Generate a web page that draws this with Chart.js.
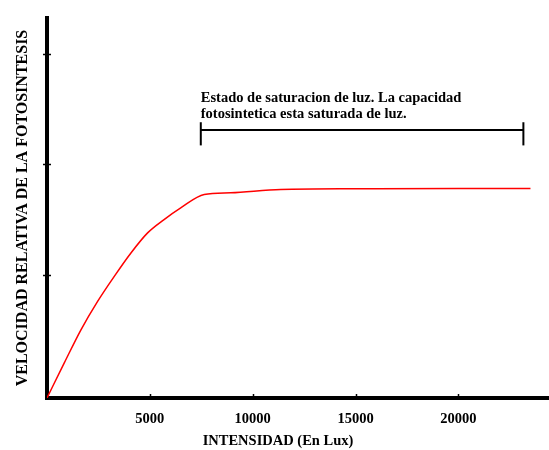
<!DOCTYPE html>
<html><head><meta charset="utf-8">
<script src="https://cdn.jsdelivr.net/npm/chart.js@4"></script>
<style>html,body{margin:0;padding:0;background:#fff}canvas{display:block}</style>
</head><body>
<canvas id="c" width="549" height="450"></canvas>
<script>
const lux  = [0, 840, 1650, 2460, 3270, 4080, 4890, 5690, 6500, 7640, 8930, 11360, 15000, 20000, 23500];
const rate = [0, 0.318, 0.618, 0.876, 1.103, 1.315, 1.497, 1.618, 1.724, 1.845, 1.861, 1.891, 1.897, 1.9, 1.9];
const xTicks = [5000, 10000, 15000, 20000];
const yTicks = [1.115, 2.12, 3.12];
const bracketX = [7475, 23155];
const bracketY = [2.29, 2.43, 2.5];
const noteLines = ['Estado de saturacion de luz. La capacidad', 'fotosintetica esta saturada de luz.'];
const noteY = [2.684, 2.534];
const xTitle = 'INTENSIDAD (En Lux)';
const yTitle = 'VELOCIDAD RELATIVA DE LA FOTOSINTESIS';

const FONT = '"Liberation Serif", "Times New Roman", serif';

const decor = {
  id: 'decor',
  afterDatasetsDraw(chart) {
    const {ctx, scales: {x, y}} = chart;
    ctx.save();
    ctx.strokeStyle = '#000';
    ctx.lineWidth = 1.5;
    yTicks.forEach(v => {
      const py = Math.round(y.getPixelForValue(v)) + 0.5;
      ctx.beginPath(); ctx.moveTo(x.left - 4, py); ctx.lineTo(x.left + 4, py); ctx.stroke();
    });
    xTicks.forEach(v => {
      const px = Math.round(x.getPixelForValue(v)) + 0.5;
      ctx.beginPath(); ctx.moveTo(px, y.bottom - 4); ctx.lineTo(px, y.bottom); ctx.stroke();
    });
    ctx.fillStyle = '#000';
    ctx.font = 'bold 14.5px ' + FONT;
    ctx.textBaseline = 'alphabetic';
    ctx.textAlign = 'left';
    noteLines.forEach((t, i) => ctx.fillText(t, x.getPixelForValue(bracketX[0]), y.getPixelForValue(noteY[i])));
    ctx.restore();
  }
};

const bracketStyle = {showLine: true, borderColor: '#000', borderWidth: 2, pointRadius: 0, fill: false};

new Chart(document.getElementById('c'), {
  type: 'scatter',
  data: {
    datasets: [
      {data: lux.map((v, i) => ({x: v, y: rate[i]})), showLine: true, borderColor: '#ff0000', borderWidth: 1.5,
       pointRadius: 0, cubicInterpolationMode: 'monotone', fill: false},
      Object.assign({data: [{x: bracketX[0], y: bracketY[1]}, {x: bracketX[1], y: bracketY[1]}]}, bracketStyle),
      Object.assign({data: [{x: bracketX[0], y: bracketY[0]}, {x: bracketX[0], y: bracketY[2]}]}, bracketStyle),
      Object.assign({data: [{x: bracketX[1], y: bracketY[0]}, {x: bracketX[1], y: bracketY[2]}]}, bracketStyle)
    ]
  },
  options: {
    responsive: false,
    animation: false,
    devicePixelRatio: 1,
    layout: {padding: {left: 7, top: 18, right: 0, bottom: 0}},
    plugins: {
      legend: {display: false},
      tooltip: {enabled: false},
      title: {display: true, text: xTitle, position: 'bottom', color: '#000',
              font: {family: FONT, size: 14.5, weight: 'bold'}, padding: {top: 3, bottom: 0}}
    },
    scales: {
      x: {
        type: 'linear', min: 0, max: 24400,
        afterBuildTicks: s => { s.ticks = xTicks.map(v => ({value: v})); },
        afterFit: s => { s.height = 31.6; },
        grid: {display: false, drawTicks: false},
        border: {display: true, color: '#000', width: 4},
        ticks: {color: '#000', padding: 13, maxRotation: 0, font: {family: FONT, size: 14.5, weight: 'bold'},
                callback: v => String(v)}
      },
      y: {
        type: 'linear', min: 0, max: 3.445,
        afterFit: s => { s.width = 40; },
        grid: {display: false, drawTicks: false},
        border: {display: true, color: '#000', width: 4},
        ticks: {display: false},
        title: {display: true, text: yTitle, color: '#000', padding: {top: 6, bottom: 0},
                font: {family: FONT, size: 16, weight: 'bold'}}
      }
    }
  },
  plugins: [decor]
});
</script>
</body></html>
